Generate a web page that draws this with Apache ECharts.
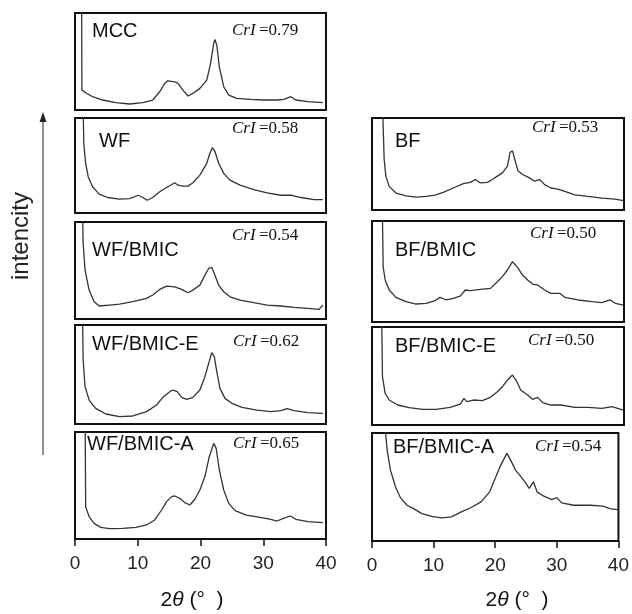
<!DOCTYPE html>
<html>
<head>
<meta charset="utf-8">
<script src="https://cdn.jsdelivr.net/npm/echarts@6/dist/echarts.min.js"></script>
<style>
  html, body { margin: 0; padding: 0; background: #fff; }
  #chart { width: 632px; height: 614px; }
</style>
</head>
<body>
<div id="chart"></div>
<script>
// XRD patterns: [2θ (deg), relative intensity (a.u., 0–100 per panel)]
const sampleNames = ['MCC', 'WF', 'WF/BMIC', 'WF/BMIC-E', 'WF/BMIC-A',
                     'BF', 'BF/BMIC', 'BF/BMIC-E', 'BF/BMIC-A'];
const crystallinity = [0.79, 0.58, 0.54, 0.62, 0.65, 0.53, 0.50, 0.50, 0.54];
const angleTicks = [0, 10, 20, 30, 40];

const MCC = [[1.05,130],[1.1,20.5],[1.7,17.8],[2.8,13.7],[4.4,10.3],[6.5,7.5],[8.7,6.2],[10.8,7.5],
  [12.4,10.3],[13.5,18.8],[14.3,27.4],[14.8,30.1],[15.9,29.1],[16.4,27.4],[17.2,20.5],[18.0,14.4],
  [18.8,17.1],[19.9,22.3],[21.0,30.8],[21.6,47.9],[22.1,68.5],[22.3,72.6],[22.6,66.8],[23.0,44.5],
  [23.7,24.0],[24.5,15.4],[25.8,12.0],[28.0,11.0],[30.1,10.3],[32.2,10.3],[33.3,11.0],[34.4,13.7],
  [35.2,10.3],[37.1,8.6],[39.5,7.5]];

const WF = [[1.25,130],[1.4,73.1],[1.7,52.3],[2.1,38.2],[2.8,27.6],[3.85,19.8],[5.2,16.3],[7.1,14.5],
  [8.7,15.2],[10.1,18.7],[10.8,16.3],[11.5,13.4],[12.4,16.3],[13.5,22.3],[14.6,26.9],[15.9,31.8],
  [16.4,29.3],[17.2,28.3],[18.0,28.3],[18.8,31.8],[19.9,39.9],[21.0,52.3],[21.5,62.9],[21.9,68.9],
  [22.3,64.7],[22.9,52.3],[23.7,41.7],[24.7,34.6],[26.3,29.3],[28.5,24.7],[30.6,21.2],[32.8,18.7],
  [34.4,18.7],[36.0,16.3],[38.1,14.1],[39.5,14.1]];

const WF_BMIC = [[1.15,130],[1.3,77.7],[1.6,50.3],[2.25,29.8],[3.05,17.8],[3.85,13.4],[5.5,14.4],
  [7.1,15.4],[9.2,17.8],[11.4,21.2],[12.4,24.7],[13.5,30.5],[14.6,33.9],[15.9,33.2],[17.0,30.5],
  [18.0,27.1],[18.8,29.8],[19.9,34.9],[20.7,45.2],[21.3,52.1],[21.8,53.1],[22.2,46.9],[22.9,34.9],
  [23.7,28.1],[24.7,22.9],[26.3,19.5],[28.5,16.8],[30.6,14.4],[32.8,13.4],[34.9,12.0],[37.1,11.0],
  [38.9,9.9],[39.5,14.4]];

const WF_BMIC_E = [[1.15,130],[1.3,64.6],[1.6,37.7],[2.25,24.2],[3.3,15.8],[4.9,10.1],[7.1,7.4],
  [9.2,8.1],[11.4,12.5],[13.0,19.2],[14.0,26.9],[15.1,32.7],[15.6,34.3],[16.3,32.7],[17.0,26.9],
  [17.8,24.9],[18.8,26.9],[19.9,34.3],[20.7,47.8],[21.3,61.3],[21.8,72.1],[22.2,68.0],[22.6,52.9],
  [23.1,36.0],[23.9,25.9],[25.0,20.9],[26.6,16.8],[29.0,14.1],[31.2,12.5],[32.8,13.5],[33.8,15.5],
  [34.9,13.5],[37.1,11.4],[39.5,10.8]];

const WF_BMIC_A = [[1.6,130],[1.7,30.2],[2.25,20.9],[3.05,14.6],[4.1,10.9],[5.5,9.7],[7.6,10.0],
  [9.7,10.9],[11.4,13.1],[12.7,17.8],[13.8,27.1],[14.6,34.9],[15.4,39.6],[15.9,40.2],[16.7,38.0],
  [17.5,34.0],[18.3,31.8],[19.1,37.1],[19.9,45.8],[20.7,58.3],[21.4,76.9],[22.1,89.4],[22.5,84.7],
  [23.0,64.5],[23.7,45.8],[24.5,33.3],[25.5,26.5],[27.3,22.4],[29.5,20.2],[31.2,18.4],[32.2,16.8],
  [33.2,19.3],[34.3,21.5],[35.2,18.4],[37.1,16.2],[39.5,15.3]];

const BF = [[1.6,130],[1.93,55.1],[2.2,36.8],[2.73,25.7],[3.8,18.4],[5.4,15.4],[7.0,14.0],[8.6,14.7],
  [10.0,16.2],[11.3,19.1],[12.9,23.9],[14.5,28.7],[15.6,30.1],[16.4,33.1],[17.2,29.4],[18.3,30.1],
  [19.1,33.1],[19.9,36.8],[20.7,40.4],[21.5,47.8],[21.9,62.5],[22.3,64.3],[22.5,66.2],[22.8,51.5],
  [23.2,42.3],[23.9,38.6],[25.0,34.9],[25.8,31.3],[26.6,33.1],[27.4,27.6],[28.4,23.9],[29.5,22.8],
  [30.6,20.2],[32.2,16.5],[34.3,14.7],[36.5,12.9],[38.6,11.8],[39.9,10.3]];

const BF_BMIC = [[1.6,130],[1.77,54.8],[2.09,41.6],[2.73,31.7],[3.8,24.4],[5.4,20.1],[7.0,17.8],
  [8.6,18.5],[10.0,21.1],[10.8,24.4],[11.8,21.8],[12.9,23.4],[14.0,25.7],[14.8,31.7],[15.6,31.0],
  [17.2,32.3],[18.8,33.3],[19.9,39.9],[20.7,44.9],[21.5,51.5],[22.3,59.7],[23.1,54.1],[23.9,46.5],
  [24.7,41.6],[25.5,37.6],[26.3,36.6],[27.4,31.7],[28.4,28.4],[29.8,28.4],[30.6,24.4],[32.7,21.8],
  [34.9,20.1],[36.5,19.1],[37.8,21.8],[38.6,18.5],[39.9,16.8]];

const BF_BMIC_E = [[1.5,130],[1.66,49.3],[2.09,32.3],[2.73,25.5],[4.07,20.4],[5.9,17.7],[8.1,16.0],
  [10.2,16.0],[12.4,18.0],[14.0,21.4],[14.6,27.2],[15.05,23.8],[16.1,25.5],[17.5,24.8],[18.8,28.2],
  [19.9,34.0],[20.7,39.1],[21.5,45.9],[22.3,51.0],[23.0,44.2],[23.6,35.7],[24.7,30.6],[25.5,26.2],
  [26.3,28.2],[27.1,22.8],[28.4,20.4],[30.0,20.4],[32.2,18.0],[34.3,18.0],[36.5,17.0],[38.1,18.7],
  [39.9,15.3]];

const BF_BMIC_A = [[2.0,130],[2.2,100],[2.46,84.2],[3.0,65.6],[3.8,50.2],[4.6,40.2],[5.7,33.1],
  [6.75,30.0],[8.1,25.4],[9.7,22.9],[11.3,21.4],[12.9,22.3],[14.5,26.9],[16.1,31.0],[17.7,36.2],
  [19.1,45.5],[20.1,59.4],[20.9,70.3],[21.9,81.1],[22.5,74.9],[23.3,65.6],[24.2,59.4],[25.0,53.3],
  [25.5,48.6],[26.2,54.8],[26.8,45.5],[27.9,41.5],[29.2,38.4],[30.0,40.2],[30.8,35.3],[32.7,33.1],
  [35.4,33.1],[37.5,32.2],[38.6,30.0],[39.9,29.1]];

const patterns = [MCC, WF, WF_BMIC, WF_BMIC_E, WF_BMIC_A, BF, BF_BMIC, BF_BMIC_E, BF_BMIC_A];

// Panel frames (px) and annotation anchors
const layout = [
  { l: 75,  t: 13,  w: 251, h: 97,  nx: 92,  ny: 31,  cx: 232, cy: 31 },
  { l: 75,  t: 118, w: 251, h: 95,  nx: 99,  ny: 141, cx: 232, cy: 129 },
  { l: 75,  t: 222, w: 251, h: 97,  nx: 92,  ny: 250, cx: 232, cy: 236 },
  { l: 75,  t: 325, w: 251, h: 99,  nx: 92,  ny: 344, cx: 233, cy: 342 },
  { l: 75,  t: 432, w: 251, h: 107, nx: 87,  ny: 444, cx: 233, cy: 444 },
  { l: 372, t: 118, w: 252, h: 92,  nx: 395, ny: 141, cx: 532, cy: 128 },
  { l: 372, t: 221, w: 252, h: 101, nx: 395, ny: 250, cx: 530, cy: 234 },
  { l: 372, t: 327, w: 252, h: 98,  nx: 395, ny: 346, cx: 528, cy: 341 },
  { l: 372, t: 433, w: 252, h: 108, nx: 393, ny: 447, cx: 535, cy: 447 }
];
const bottomPanels = [4, 8];

const sans = '"Liberation Sans", Arial, sans-serif';
const serif = '"Liberation Serif", "Times New Roman", serif';

const grids = [], xAxes = [], yAxes = [], series = [], graphics = [];

layout.forEach((p, i) => {
  const isBottom = bottomPanels.includes(i);
  grids.push({
    left: p.l, top: p.t, width: p.w, height: p.h,
    show: true, borderColor: '#111', borderWidth: 2, backgroundColor: '#fff'
  });
  xAxes.push({
    gridIndex: i, type: 'value',
    min: angleTicks[0], max: angleTicks[angleTicks.length - 1],
    interval: angleTicks[1] - angleTicks[0],
    axisLine: { show: false },
    axisTick: { show: isBottom, inside: false, length: 7, lineStyle: { color: '#111', width: 1.5 } },
    axisLabel: { show: isBottom, fontSize: 19, color: '#222', fontFamily: sans, margin: 15 },
    splitLine: { show: false }
  });
  yAxes.push({ gridIndex: i, type: 'value', min: 0, max: 100, show: false });
  series.push({
    type: 'line', xAxisIndex: i, yAxisIndex: i,
    data: patterns[i], showSymbol: false, symbol: 'none', clip: true,
    lineStyle: { color: '#333', width: 1.3 }, silent: true
  });
  graphics.push({
    type: 'text', x: p.nx, y: p.ny, z: 100,
    style: { text: sampleNames[i], font: '20px ' + sans, fill: '#111', align: 'left', verticalAlign: 'middle' }
  });
  graphics.push({
    type: 'text', x: p.cx, y: p.cy, z: 100,
    style: {
      text: '{i|CrI} {n|=' + crystallinity[i].toFixed(2) + '}',
      align: 'left', verticalAlign: 'middle',
      rich: {
        i: { fontFamily: serif, fontStyle: 'italic', fontSize: 17, fill: '#111' },
        n: { fontFamily: serif, fontSize: 17, fill: '#111' }
      }
    }
  });
});

// x-axis titles under each column
[[192, 600], [517, 600]].forEach(([x, y]) => {
  graphics.push({
    type: 'text', x: x, y: y, z: 100,
    style: {
      text: '{n|2}{t|θ}{n| (°  )}', align: 'center', verticalAlign: 'middle',
      rich: {
        n: { fontFamily: sans, fontSize: 21, fill: '#111' },
        t: { fontFamily: sans, fontStyle: 'italic', fontSize: 21, fill: '#111' }
      }
    }
  });
});

// y-axis caption with upward arrow
graphics.push({
  type: 'text', x: 21, y: 236, rotation: Math.PI / 2, z: 100,
  style: { text: 'intencity', font: '24px ' + sans, fill: '#222', align: 'center', verticalAlign: 'middle' }
});
graphics.push({
  type: 'line', z: 100,
  shape: { x1: 43, y1: 455, x2: 43, y2: 120 },
  style: { stroke: '#555', lineWidth: 1.3 }
});
graphics.push({
  type: 'polygon', z: 100,
  shape: { points: [[43, 112], [39.5, 122], [46.5, 122]] },
  style: { fill: '#222' }
});

const chart = echarts.init(document.getElementById('chart'), null, { renderer: 'canvas' });
chart.setOption({
  animation: false,
  backgroundColor: '#fff',
  grid: grids,
  xAxis: xAxes,
  yAxis: yAxes,
  series: series,
  graphic: graphics
});
</script>
</body>
</html>
